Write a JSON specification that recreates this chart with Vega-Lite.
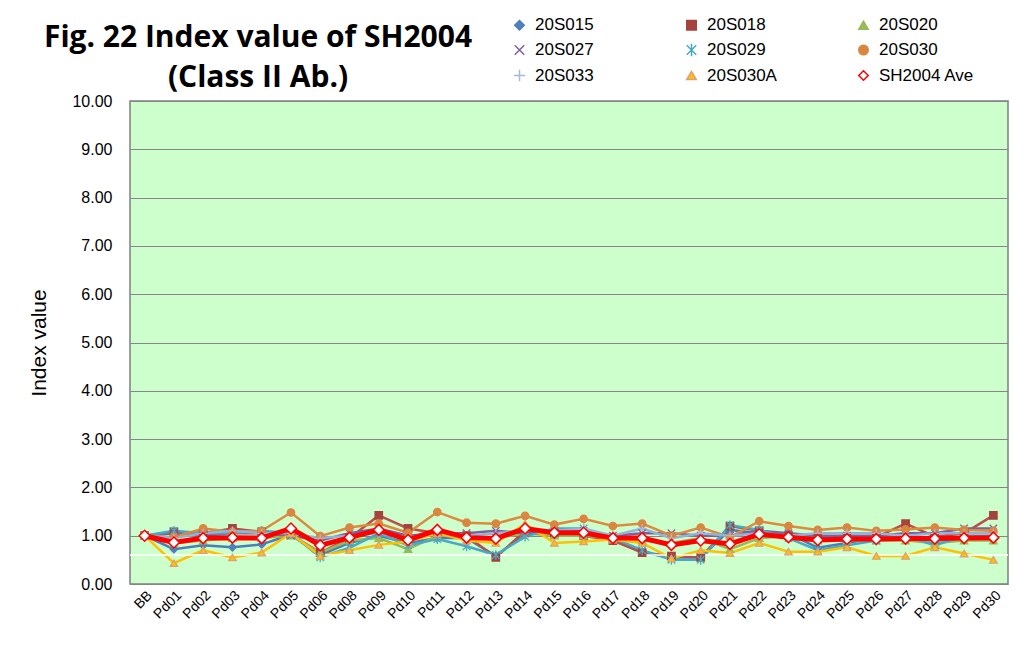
{
 "$schema": "https://vega.github.io/schema/vega-lite/v6.json",
 "width": 878,
 "height": 483,
 "autosize": {"type": "none"},
 "padding": {"left": 130, "top": 101, "right": 25, "bottom": 75},
 "background": "white",
 "title": {"text": ["Fig. 22 Index value of SH2004", "(Class II Ab.)"], "font": "Open Sans", "fontSize": 30, "fontWeight": "bold", "color": "black", "anchor": "start", "align": "center", "dx": 128, "offset": -77, "lineHeight": 40, "frame": "group"},
 "config": {
  "view": {"fill": "#CCFFCC", "stroke": "#7F7F7F", "strokeWidth": 1.5},
  "axis": {"labelFont": "Liberation Sans", "titleFont": "Liberation Sans", "labelColor": "black", "titleColor": "black"},
  "legend": {"labelFont": "Liberation Sans"}
 },
 "datasets": {
  "d": [
   {"cat":"BB","series":"20S015","value":1.00},{"cat":"Pd01","series":"20S015","value":0.72},{"cat":"Pd02","series":"20S015","value":0.80},{"cat":"Pd03","series":"20S015","value":0.76},{"cat":"Pd04","series":"20S015","value":0.82},{"cat":"Pd05","series":"20S015","value":1.02},{"cat":"Pd06","series":"20S015","value":0.60},{"cat":"Pd08","series":"20S015","value":0.85},{"cat":"Pd09","series":"20S015","value":1.00},{"cat":"Pd10","series":"20S015","value":0.85},{"cat":"Pd11","series":"20S015","value":0.95},{"cat":"Pd12","series":"20S015","value":0.95},{"cat":"Pd13","series":"20S015","value":0.58},{"cat":"Pd14","series":"20S015","value":1.05},{"cat":"Pd15","series":"20S015","value":1.12},{"cat":"Pd16","series":"20S015","value":1.10},{"cat":"Pd17","series":"20S015","value":0.92},{"cat":"Pd18","series":"20S015","value":0.65},{"cat":"Pd19","series":"20S015","value":0.55},{"cat":"Pd20","series":"20S015","value":0.55},{"cat":"Pd21","series":"20S015","value":1.12},{"cat":"Pd22","series":"20S015","value":1.05},{"cat":"Pd23","series":"20S015","value":1.05},{"cat":"Pd24","series":"20S015","value":0.75},{"cat":"Pd25","series":"20S015","value":0.85},{"cat":"Pd26","series":"20S015","value":0.95},{"cat":"Pd27","series":"20S015","value":0.95},{"cat":"Pd28","series":"20S015","value":0.85},{"cat":"Pd29","series":"20S015","value":0.95},{"cat":"Pd30","series":"20S015","value":0.92},
   {"cat":"BB","series":"20S018","value":1.00},{"cat":"Pd01","series":"20S018","value":1.08},{"cat":"Pd02","series":"20S018","value":1.05},{"cat":"Pd03","series":"20S018","value":1.15},{"cat":"Pd04","series":"20S018","value":1.08},{"cat":"Pd05","series":"20S018","value":1.02},{"cat":"Pd06","series":"20S018","value":0.65},{"cat":"Pd08","series":"20S018","value":0.95},{"cat":"Pd09","series":"20S018","value":1.42},{"cat":"Pd10","series":"20S018","value":1.15},{"cat":"Pd11","series":"20S018","value":1.05},{"cat":"Pd12","series":"20S018","value":1.00},{"cat":"Pd13","series":"20S018","value":0.55},{"cat":"Pd14","series":"20S018","value":1.10},{"cat":"Pd15","series":"20S018","value":1.05},{"cat":"Pd16","series":"20S018","value":1.00},{"cat":"Pd17","series":"20S018","value":0.90},{"cat":"Pd18","series":"20S018","value":0.65},{"cat":"Pd19","series":"20S018","value":0.58},{"cat":"Pd20","series":"20S018","value":0.55},{"cat":"Pd21","series":"20S018","value":1.20},{"cat":"Pd22","series":"20S018","value":1.10},{"cat":"Pd23","series":"20S018","value":1.00},{"cat":"Pd24","series":"20S018","value":0.95},{"cat":"Pd25","series":"20S018","value":0.95},{"cat":"Pd26","series":"20S018","value":0.97},{"cat":"Pd27","series":"20S018","value":1.25},{"cat":"Pd28","series":"20S018","value":0.98},{"cat":"Pd29","series":"20S018","value":1.05},{"cat":"Pd30","series":"20S018","value":1.42},
   {"cat":"BB","series":"20S020","value":1.00},{"cat":"Pd01","series":"20S020","value":0.85},{"cat":"Pd02","series":"20S020","value":0.90},{"cat":"Pd03","series":"20S020","value":0.95},{"cat":"Pd04","series":"20S020","value":0.95},{"cat":"Pd05","series":"20S020","value":1.00},{"cat":"Pd06","series":"20S020","value":0.65},{"cat":"Pd08","series":"20S020","value":0.90},{"cat":"Pd09","series":"20S020","value":0.95},{"cat":"Pd10","series":"20S020","value":0.72},{"cat":"Pd11","series":"20S020","value":1.00},{"cat":"Pd12","series":"20S020","value":1.00},{"cat":"Pd13","series":"20S020","value":0.95},{"cat":"Pd14","series":"20S020","value":1.05},{"cat":"Pd15","series":"20S020","value":1.00},{"cat":"Pd16","series":"20S020","value":1.00},{"cat":"Pd17","series":"20S020","value":0.95},{"cat":"Pd18","series":"20S020","value":0.90},{"cat":"Pd19","series":"20S020","value":0.85},{"cat":"Pd20","series":"20S020","value":0.95},{"cat":"Pd21","series":"20S020","value":0.72},{"cat":"Pd22","series":"20S020","value":0.95},{"cat":"Pd23","series":"20S020","value":1.00},{"cat":"Pd24","series":"20S020","value":0.90},{"cat":"Pd25","series":"20S020","value":0.90},{"cat":"Pd26","series":"20S020","value":0.90},{"cat":"Pd27","series":"20S020","value":0.90},{"cat":"Pd28","series":"20S020","value":0.85},{"cat":"Pd29","series":"20S020","value":0.90},{"cat":"Pd30","series":"20S020","value":0.90},
   {"cat":"BB","series":"20S027","value":1.00},{"cat":"Pd01","series":"20S027","value":1.05},{"cat":"Pd02","series":"20S027","value":1.00},{"cat":"Pd03","series":"20S027","value":1.05},{"cat":"Pd04","series":"20S027","value":1.05},{"cat":"Pd05","series":"20S027","value":1.00},{"cat":"Pd06","series":"20S027","value":0.90},{"cat":"Pd08","series":"20S027","value":1.05},{"cat":"Pd09","series":"20S027","value":1.15},{"cat":"Pd10","series":"20S027","value":1.00},{"cat":"Pd11","series":"20S027","value":1.05},{"cat":"Pd12","series":"20S027","value":1.05},{"cat":"Pd13","series":"20S027","value":1.10},{"cat":"Pd14","series":"20S027","value":1.05},{"cat":"Pd15","series":"20S027","value":1.10},{"cat":"Pd16","series":"20S027","value":1.10},{"cat":"Pd17","series":"20S027","value":1.00},{"cat":"Pd18","series":"20S027","value":1.05},{"cat":"Pd19","series":"20S027","value":1.05},{"cat":"Pd20","series":"20S027","value":1.00},{"cat":"Pd21","series":"20S027","value":1.00},{"cat":"Pd22","series":"20S027","value":1.10},{"cat":"Pd23","series":"20S027","value":1.05},{"cat":"Pd24","series":"20S027","value":1.00},{"cat":"Pd25","series":"20S027","value":1.00},{"cat":"Pd26","series":"20S027","value":1.00},{"cat":"Pd27","series":"20S027","value":1.05},{"cat":"Pd28","series":"20S027","value":1.05},{"cat":"Pd29","series":"20S027","value":1.15},{"cat":"Pd30","series":"20S027","value":1.15},
   {"cat":"BB","series":"20S029","value":1.00},{"cat":"Pd01","series":"20S029","value":1.10},{"cat":"Pd02","series":"20S029","value":1.05},{"cat":"Pd03","series":"20S029","value":1.05},{"cat":"Pd04","series":"20S029","value":1.10},{"cat":"Pd05","series":"20S029","value":1.05},{"cat":"Pd06","series":"20S029","value":0.55},{"cat":"Pd08","series":"20S029","value":0.75},{"cat":"Pd09","series":"20S029","value":1.05},{"cat":"Pd10","series":"20S029","value":0.80},{"cat":"Pd11","series":"20S029","value":0.93},{"cat":"Pd12","series":"20S029","value":0.78},{"cat":"Pd13","series":"20S029","value":0.60},{"cat":"Pd14","series":"20S029","value":0.98},{"cat":"Pd15","series":"20S029","value":1.15},{"cat":"Pd16","series":"20S029","value":1.15},{"cat":"Pd17","series":"20S029","value":0.95},{"cat":"Pd18","series":"20S029","value":0.70},{"cat":"Pd19","series":"20S029","value":0.50},{"cat":"Pd20","series":"20S029","value":0.50},{"cat":"Pd21","series":"20S029","value":1.22},{"cat":"Pd22","series":"20S029","value":1.12},{"cat":"Pd23","series":"20S029","value":0.95},{"cat":"Pd24","series":"20S029","value":0.70},{"cat":"Pd25","series":"20S029","value":0.80},{"cat":"Pd26","series":"20S029","value":0.90},{"cat":"Pd27","series":"20S029","value":1.00},{"cat":"Pd28","series":"20S029","value":0.80},{"cat":"Pd29","series":"20S029","value":1.00},{"cat":"Pd30","series":"20S029","value":1.00},
   {"cat":"BB","series":"20S030","value":1.00},{"cat":"Pd01","series":"20S030","value":0.97},{"cat":"Pd02","series":"20S030","value":1.15},{"cat":"Pd03","series":"20S030","value":1.08},{"cat":"Pd04","series":"20S030","value":1.10},{"cat":"Pd05","series":"20S030","value":1.48},{"cat":"Pd06","series":"20S030","value":0.99},{"cat":"Pd08","series":"20S030","value":1.17},{"cat":"Pd09","series":"20S030","value":1.25},{"cat":"Pd10","series":"20S030","value":1.06},{"cat":"Pd11","series":"20S030","value":1.49},{"cat":"Pd12","series":"20S030","value":1.27},{"cat":"Pd13","series":"20S030","value":1.25},{"cat":"Pd14","series":"20S030","value":1.41},{"cat":"Pd15","series":"20S030","value":1.23},{"cat":"Pd16","series":"20S030","value":1.35},{"cat":"Pd17","series":"20S030","value":1.20},{"cat":"Pd18","series":"20S030","value":1.25},{"cat":"Pd19","series":"20S030","value":1.00},{"cat":"Pd20","series":"20S030","value":1.17},{"cat":"Pd21","series":"20S030","value":0.97},{"cat":"Pd22","series":"20S030","value":1.30},{"cat":"Pd23","series":"20S030","value":1.20},{"cat":"Pd24","series":"20S030","value":1.12},{"cat":"Pd25","series":"20S030","value":1.17},{"cat":"Pd26","series":"20S030","value":1.10},{"cat":"Pd27","series":"20S030","value":1.13},{"cat":"Pd28","series":"20S030","value":1.17},{"cat":"Pd29","series":"20S030","value":1.12},{"cat":"Pd30","series":"20S030","value":1.10},
   {"cat":"BB","series":"20S033","value":1.00},{"cat":"Pd01","series":"20S033","value":0.95},{"cat":"Pd02","series":"20S033","value":1.05},{"cat":"Pd03","series":"20S033","value":1.10},{"cat":"Pd04","series":"20S033","value":1.05},{"cat":"Pd05","series":"20S033","value":1.05},{"cat":"Pd06","series":"20S033","value":0.95},{"cat":"Pd08","series":"20S033","value":1.00},{"cat":"Pd09","series":"20S033","value":1.05},{"cat":"Pd10","series":"20S033","value":0.95},{"cat":"Pd11","series":"20S033","value":1.10},{"cat":"Pd12","series":"20S033","value":1.00},{"cat":"Pd13","series":"20S033","value":1.05},{"cat":"Pd14","series":"20S033","value":1.10},{"cat":"Pd15","series":"20S033","value":1.10},{"cat":"Pd16","series":"20S033","value":1.15},{"cat":"Pd17","series":"20S033","value":1.00},{"cat":"Pd18","series":"20S033","value":1.15},{"cat":"Pd19","series":"20S033","value":0.95},{"cat":"Pd20","series":"20S033","value":1.05},{"cat":"Pd21","series":"20S033","value":1.00},{"cat":"Pd22","series":"20S033","value":1.05},{"cat":"Pd23","series":"20S033","value":1.00},{"cat":"Pd24","series":"20S033","value":1.05},{"cat":"Pd25","series":"20S033","value":1.05},{"cat":"Pd26","series":"20S033","value":1.05},{"cat":"Pd27","series":"20S033","value":1.00},{"cat":"Pd28","series":"20S033","value":1.05},{"cat":"Pd29","series":"20S033","value":1.05},{"cat":"Pd30","series":"20S033","value":1.05},
   {"cat":"BB","series":"20S030A","value":1.00},{"cat":"Pd01","series":"20S030A","value":0.43},{"cat":"Pd02","series":"20S030A","value":0.70},{"cat":"Pd03","series":"20S030A","value":0.55},{"cat":"Pd04","series":"20S030A","value":0.65},{"cat":"Pd05","series":"20S030A","value":1.05},{"cat":"Pd06","series":"20S030A","value":0.58},{"cat":"Pd08","series":"20S030A","value":0.70},{"cat":"Pd09","series":"20S030A","value":0.81},{"cat":"Pd10","series":"20S030A","value":0.88},{"cat":"Pd11","series":"20S030A","value":1.05},{"cat":"Pd12","series":"20S030A","value":0.90},{"cat":"Pd13","series":"20S030A","value":0.85},{"cat":"Pd14","series":"20S030A","value":1.25},{"cat":"Pd15","series":"20S030A","value":0.85},{"cat":"Pd16","series":"20S030A","value":0.88},{"cat":"Pd17","series":"20S030A","value":0.92},{"cat":"Pd18","series":"20S030A","value":0.85},{"cat":"Pd19","series":"20S030A","value":0.53},{"cat":"Pd20","series":"20S030A","value":0.70},{"cat":"Pd21","series":"20S030A","value":0.64},{"cat":"Pd22","series":"20S030A","value":0.85},{"cat":"Pd23","series":"20S030A","value":0.67},{"cat":"Pd24","series":"20S030A","value":0.67},{"cat":"Pd25","series":"20S030A","value":0.76},{"cat":"Pd26","series":"20S030A","value":0.58},{"cat":"Pd27","series":"20S030A","value":0.58},{"cat":"Pd28","series":"20S030A","value":0.76},{"cat":"Pd29","series":"20S030A","value":0.63},{"cat":"Pd30","series":"20S030A","value":0.50},
   {"cat":"BB","series":"SH2004 Ave","value":1.00},{"cat":"Pd01","series":"SH2004 Ave","value":0.86},{"cat":"Pd02","series":"SH2004 Ave","value":0.95},{"cat":"Pd03","series":"SH2004 Ave","value":0.96},{"cat":"Pd04","series":"SH2004 Ave","value":0.95},{"cat":"Pd05","series":"SH2004 Ave","value":1.15},{"cat":"Pd06","series":"SH2004 Ave","value":0.80},{"cat":"Pd08","series":"SH2004 Ave","value":0.96},{"cat":"Pd09","series":"SH2004 Ave","value":1.12},{"cat":"Pd10","series":"SH2004 Ave","value":0.91},{"cat":"Pd11","series":"SH2004 Ave","value":1.12},{"cat":"Pd12","series":"SH2004 Ave","value":0.96},{"cat":"Pd13","series":"SH2004 Ave","value":0.94},{"cat":"Pd14","series":"SH2004 Ave","value":1.15},{"cat":"Pd15","series":"SH2004 Ave","value":1.06},{"cat":"Pd16","series":"SH2004 Ave","value":1.06},{"cat":"Pd17","series":"SH2004 Ave","value":0.95},{"cat":"Pd18","series":"SH2004 Ave","value":0.95},{"cat":"Pd19","series":"SH2004 Ave","value":0.81},{"cat":"Pd20","series":"SH2004 Ave","value":0.90},{"cat":"Pd21","series":"SH2004 Ave","value":0.83},{"cat":"Pd22","series":"SH2004 Ave","value":1.03},{"cat":"Pd23","series":"SH2004 Ave","value":0.97},{"cat":"Pd24","series":"SH2004 Ave","value":0.91},{"cat":"Pd25","series":"SH2004 Ave","value":0.93},{"cat":"Pd26","series":"SH2004 Ave","value":0.93},{"cat":"Pd27","series":"SH2004 Ave","value":0.94},{"cat":"Pd28","series":"SH2004 Ave","value":0.94},{"cat":"Pd29","series":"SH2004 Ave","value":0.95},{"cat":"Pd30","series":"SH2004 Ave","value":0.96}
  ]
 },
 "layer": [
  {
   "data": {"name": "d"},
   "mark": {"type": "line", "strokeWidth": 2.5},
   "transform": [{"filter": "datum.series != 'SH2004 Ave'"}],
   "encoding": {
    "x": {"field": "cat", "type": "ordinal", "sort": null, "scale": {"type": "point", "padding": 0.5}, "axis": {"title": null, "labelAngle": -45, "labelFont": "Liberation Sans", "labelFontSize": 14, "labelColor": "black", "ticks": false, "domain": false, "grid": false, "labelPadding": 4}},
    "y": {"field": "value", "type": "quantitative", "scale": {"domain": [0, 10]}, "axis": {"title": "Index value", "titleFont": "Liberation Sans", "titleFontSize": 21, "titleFontWeight": "normal", "titleColor": "black", "titlePadding": 22, "values": [0,1,2,3,4,5,6,7,8,9,10], "format": ".2f", "labelFont": "Liberation Sans", "labelFontSize": 16, "labelColor": "black", "labelPadding": 18, "ticks": false, "domain": false, "grid": true, "gridColor": "#868686", "gridWidth": 1}},
    "color": {"field": "series", "type": "nominal", "legend": null, "scale": {"domain": ["SH2004 Ave","20S030A","20S033","20S030","20S029","20S027","20S020","20S018","20S015"], "range": ["#FF0000","#FFC000","#95B3D7","#DE8A3E","#46AAC5","#7D60A0","#98B954","#BE4B48","#4A7EBB"]}}
   }
  },
  {
   "data": {"values": [{}]},
   "mark": {"type": "rule", "color": "#FFFFFF", "strokeWidth": 1.5},
   "encoding": {"y": {"datum": 0.6, "type": "quantitative"}}
  },
  {
   "data": {"name": "d"},
   "mark": {"type": "point", "filled": true, "size": 55, "strokeWidth": 1.3, "opacity": 1},
   "transform": [{"filter": "datum.series != 'SH2004 Ave'"}],
   "encoding": {
    "x": {"field": "cat", "type": "ordinal", "sort": null},
    "y": {"field": "value", "type": "quantitative"},
    "fill": {"field": "series", "type": "nominal", "scale": {"domain": ["20S015","20S018","20S020","20S027","20S029","20S030","20S033","20S030A","SH2004 Ave"], "range": ["#4F81BD","#A5443F","#9BBB59","#8064A2","#4BACC6","#DA8540","#A5B9DB","#FFC000","#FFFFFF"]}, "legend": {"title": null, "orient": "none", "direction": "horizontal", "legendX": 381, "legendY": -85, "columns": 3, "columnPadding": 52, "rowPadding": 6.5, "gridAlign": "all", "labelFontSize": 17, "labelFont": "Liberation Sans", "labelColor": "black", "symbolSize": 90, "symbolStrokeWidth": 1.5, "labelOffset": 7}},
    "stroke": {"field": "series", "type": "nominal", "scale": {"domain": ["20S015","20S018","20S020","20S027","20S029","20S030","20S033","20S030A","SH2004 Ave"], "range": ["#4A7EBB","#A5443F","#98B954","#7D60A0","#46AAC5","#DA8540","#A5B9DB","#D9A07A","#FF0000"]}},
    "shape": {"field": "series", "type": "nominal", "scale": {"domain": ["20S015","20S018","20S020","20S027","20S029","20S030","20S033","20S030A","SH2004 Ave"], "range": ["diamond","square","triangle-up","M-1,-1L1,1M-1,1L1,-1","M-1,-1L1,1M-1,1L1,-1M0,-1.3L0,1.3","circle","M-1.2,0L1.2,0M0,-1.2L0,1.2","triangle-up","diamond"]}}
   }
  },
  {
   "data": {"name": "d"},
   "mark": {"type": "line", "strokeWidth": 5, "color": "#FF0000"},
   "transform": [{"filter": "datum.series == 'SH2004 Ave'"}],
   "encoding": {
    "x": {"field": "cat", "type": "ordinal", "sort": null},
    "y": {"field": "value", "type": "quantitative"}
   }
  },
  {
   "data": {"name": "d"},
   "mark": {"type": "point", "filled": true, "size": 120, "strokeWidth": 1.5, "opacity": 1},
   "transform": [{"filter": "datum.series == 'SH2004 Ave'"}],
   "encoding": {
    "x": {"field": "cat", "type": "ordinal", "sort": null},
    "y": {"field": "value", "type": "quantitative"},
    "fill": {"field": "series", "type": "nominal"},
    "stroke": {"field": "series", "type": "nominal"},
    "shape": {"field": "series", "type": "nominal"}
   }
  }
 ]
}
